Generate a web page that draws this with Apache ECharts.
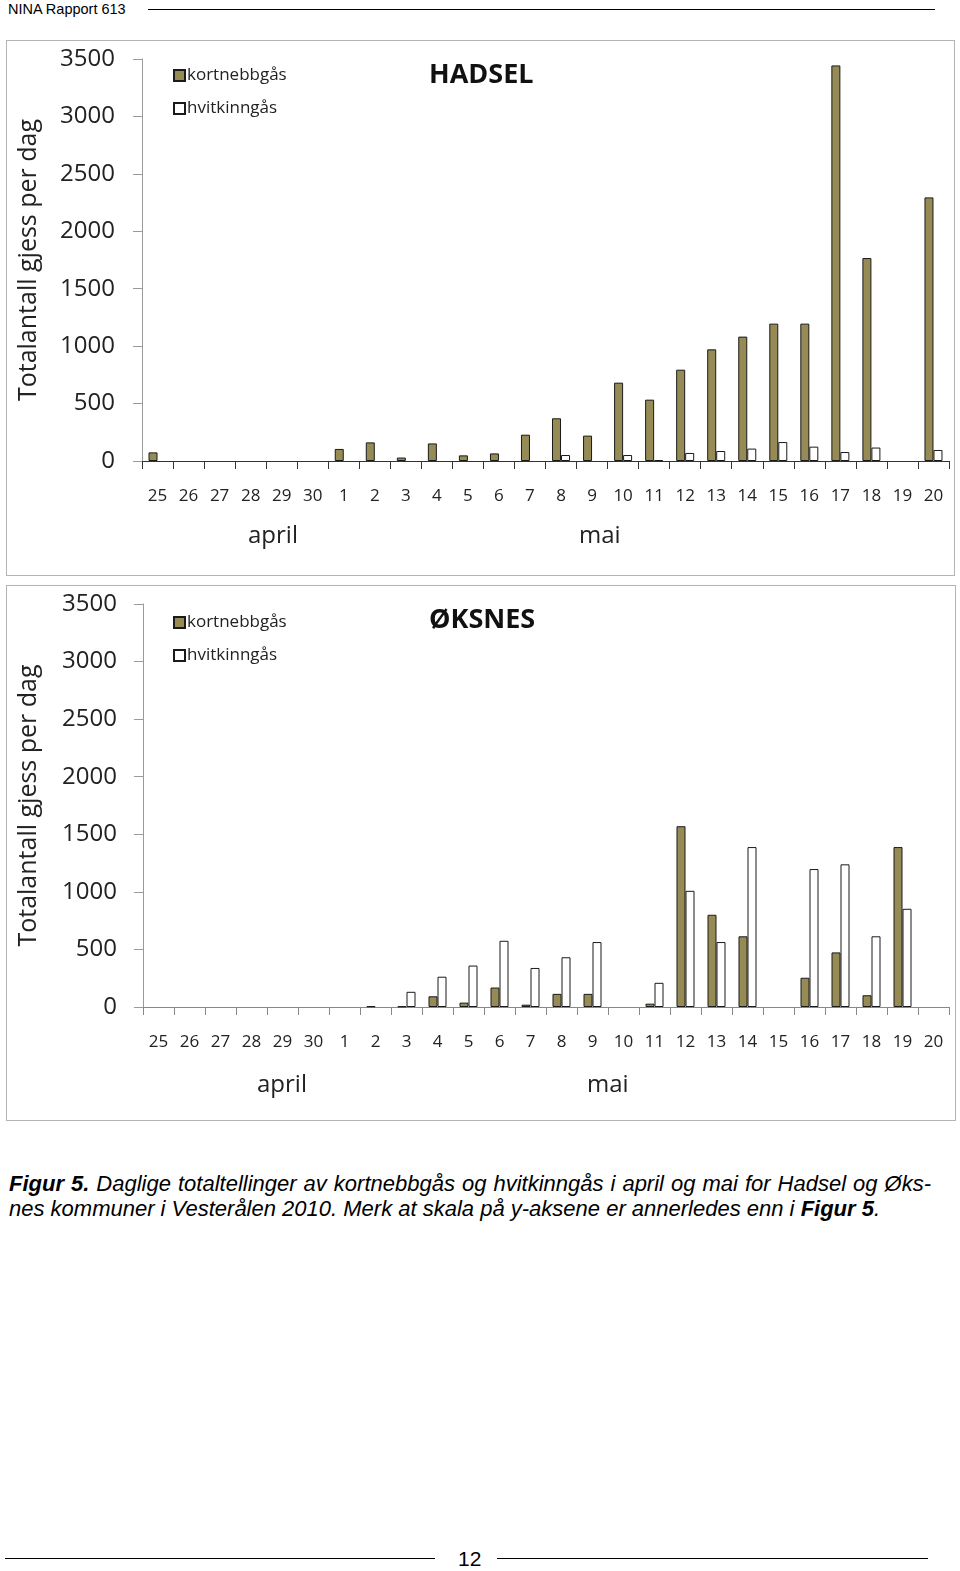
<!DOCTYPE html>
<html>
<head>
<meta charset="utf-8">
<script src="https://cdn.jsdelivr.net/npm/echarts@6/dist/echarts.min.js"></script>
<style>
  body { margin: 0; background: #fff; }
  #page { position: relative; width: 960px; height: 1571px; font-family: "Liberation Sans", Arial, sans-serif; }
  .chart { position: absolute; border: 1px solid #b4b4b4; box-sizing: border-box; }
  .rule { position: absolute; height: 1px; background: #000; }
  #head { position: absolute; left: 8px; top: 1px; font-size: 14.5px; color: #000; }
  #caption { position: absolute; left: 9px; top: 1171px; width: 922px; font-size: 22px; line-height: 25px; font-style: italic; color: #000; }
  #caption .l1 { text-align: justify; text-align-last: justify; white-space: nowrap; }
  #caption .l2 { white-space: nowrap; }
  #pageno { position: absolute; left: 458px; top: 1547px; font-size: 21px; }
</style>
</head>
<body>
<div id="page">
  <div id="head">NINA Rapport 613</div>
  <div class="rule" style="left:148px; top:9px; width:787px;"></div>

  <div id="hadsel" class="chart" style="left:6px; top:40px; width:949px; height:536px;"></div>
  <div id="oksnes" class="chart" style="left:6px; top:585px; width:950px; height:536px;"></div>

  <div id="caption">
    <div class="l1"><b>Figur 5.</b> Daglige totaltellinger av kortnebbgås og hvitkinngås i april og mai for Hadsel og Øks-</div>
    <div class="l2">nes kommuner i Vesterålen 2010. Merk at skala på y-aksene er annerledes enn i <b>Figur 5</b>.</div>
  </div>

  <div class="rule" style="left:5px; top:1558px; width:430px;"></div>
  <div id="pageno">12</div>
  <div class="rule" style="left:497px; top:1558px; width:431px;"></div>
</div>

<script>
// dager: 25.-30. april, 1.-20. mai
const days = ['25', '26', '27', '28', '29', '30', '1', '2', '3', '4', '5', '6', '7',
  '8', '9', '10', '11', '12', '13', '14', '15', '16', '17', '18', '19', '20'];
const yTicks = [0, 500, 1000, 1500, 2000, 2500, 3000, 3500];
const seriesNames = ['kortnebbgås', 'hvitkinngås'];

// Hadsel
const hadselKort = [75, 0, 0, 0, 0, 0, 105, 162, 30, 153, 49, 66, 229,
  372, 221, 682, 534, 795, 972, 1083, 1196, 1196, 3444, 1767, 0, 2295];
const hadselHvit = [0, 0, 0, 0, 0, 0, 0, 0, 0, 0, 0, 0, 0,
  52, 0, 52, 8, 70, 87, 108, 165, 125, 78, 117, 0, 96];

// Øksnes
const oksnesKort = [0, 0, 0, 0, 0, 0, 0, 6, 5, 93, 38, 169, 20,
  114, 114, 0, 29, 1570, 801, 614, 0, 254, 474, 102, 1389, 0];
const oksnesHvit = [0, 0, 0, 0, 0, 0, 0, 0, 132, 263, 360, 575, 339,
  432, 564, 0, 210, 1009, 564, 1389, 0, 1198, 1239, 614, 853, 0];

const NUM_FONT = '"Open Sans", "DejaVu Sans", sans-serif';
const hide0 = (arr) => arr.map((v) => (v === 0 ? '-' : v));

function makeChart(el, title, kort, hvit, pos) {
  const chart = echarts.init(el);
  chart.setOption({
    animation: false,
    title: {
      text: title,
      left: pos.titleX,
      top: 16,
      textStyle: { fontFamily: NUM_FONT, fontSize: 27, fontWeight: 'bold', color: '#111' },
    },
    legend: {
      orient: 'vertical',
      left: 161,
      top: pos.legendTop,
      itemWidth: 11,
      itemHeight: 11,
      itemGap: 16,
      icon: 'rect',
      textStyle: { fontFamily: NUM_FONT, fontSize: 17, color: '#222', padding: [0, 0, 0, -3] },
      data: seriesNames,
    },
    grid: { left: pos.left, top: 18, width: pos.width, height: pos.height, outerBoundsMode: 'none' },
    xAxis: {
      type: 'category',
      data: days,
      axisLine: { lineStyle: { color: pos.xColor, width: 1 } },
      axisTick: { show: true, length: 8, lineStyle: { color: pos.xColor } },
      axisLabel: { interval: 0, margin: 27, fontFamily: NUM_FONT, fontSize: 17, color: '#222' },
    },
    yAxis: {
      type: 'value',
      min: yTicks[0],
      max: yTicks[yTicks.length - 1],
      interval: 500,
      name: 'Totalantall gjess per dag',
      nameLocation: 'middle',
      nameGap: pos.nameGap,
      nameTextStyle: { fontFamily: NUM_FONT, fontSize: 25, color: '#222' },
      axisLine: { show: true, lineStyle: { color: '#9a9a9a' } },
      axisTick: { show: true, length: 9, lineStyle: { color: '#9a9a9a' } },
      splitLine: { show: false },
      axisLabel: {
        margin: pos.labelMargin,
        fontFamily: NUM_FONT,
        fontSize: 24,
        color: '#222',
        formatter: (v) => String(v),
      },
    },
    graphic: [
      { type: 'text', left: pos.aprilX, top: pos.monthY, style: { text: 'april', fontFamily: NUM_FONT, fontSize: 24, fill: '#222' } },
      { type: 'text', left: pos.maiX, top: pos.monthY, style: { text: 'mai', fontFamily: NUM_FONT, fontSize: 24, fill: '#222' } },
    ],
    series: [
      {
        name: seriesNames[0],
        type: 'bar',
        barWidth: 9,
        barGap: '0%',
        itemStyle: { color: '#978b55', borderColor: '#1a1a1a', borderWidth: 1 },
        data: hide0(kort),
      },
      {
        name: seriesNames[1],
        type: 'bar',
        barWidth: 9,
        barGap: '0%',
        itemStyle: { color: '#ffffff', borderColor: '#1a1a1a', borderWidth: 1 },
        data: hide0(hvit),
      },
    ],
  });
  return chart;
}

makeChart(document.getElementById('hadsel'), 'HADSEL', hadselKort, hadselHvit, {
  left: 135, width: 807, height: 402, titleX: 417, legendTop: 21,
  nameGap: 101, labelMargin: 27, xColor: '#333',
  aprilX: 241, maiX: 572, monthY: 483,
});

makeChart(document.getElementById('oksnes'), 'ØKSNES', oksnesKort, oksnesHvit, {
  left: 136, width: 806, height: 403, titleX: 417, legendTop: 23,
  nameGap: 102, labelMargin: 26, xColor: '#888',
  aprilX: 250, maiX: 580, monthY: 487,
});
</script>
</body>
</html>
